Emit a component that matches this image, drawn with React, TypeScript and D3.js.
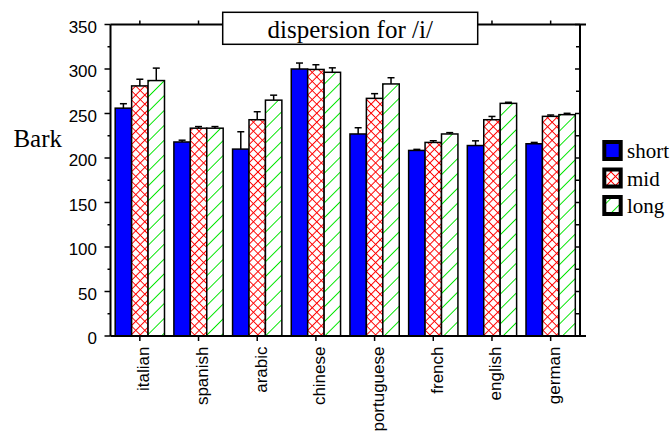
import React from 'react';
import * as d3 from 'd3';

const categories = ['italian', 'spanish', 'arabic', 'chinese', 'portuguese', 'french', 'english', 'german'];
const seriesNames = ['short', 'mid', 'long'];
const shortValues = [256, 218, 210, 300, 227, 208.5, 214, 216];
const shortErrors = [5, 2, 19.5, 6.7, 7, 1.2, 5.3, 1.5];
const midValues = [281, 233.5, 243, 299.5, 267, 217.5, 243, 246.8];
const midErrors = [7.5, 1.8, 9, 5.3, 5.3, 1.9, 3.7, 1.5];
const longValues = [287, 233.5, 265, 296.3, 283.2, 227, 261.4, 248.7];
const longErrors = [14, 1.8, 5.6, 5, 7, 1.5, 1.2, 1.5];
const yMajorTicks = [0, 50, 100, 150, 200, 250, 300, 350];
const yMinorTicks = [25, 75, 125, 175, 225, 275, 325];
const title = 'dispersion for /i/';
const yLabel = 'Bark';

const W = 672;
const H = 433;
const left = 110.5;
const right = 580;
const top = 24.5;
const bottom = 336;

const SANS = '"Liberation Sans", Arial, sans-serif';
const SERIF = '"Liberation Serif", "Times New Roman", serif';

const fills = ['#0000ff', 'url(#crossRed)', 'url(#diagGreen)'];

export default function App() {
  const x0 = d3.scaleBand<string>().domain(categories).range([left, right]).paddingInner(0.16).paddingOuter(0.08);
  const x1 = d3.scaleBand<string>().domain(seriesNames).range([0, x0.bandwidth()]).padding(0);
  const y = d3.scaleLinear().domain([0, 350]).range([bottom, top]);

  const valuesBySeries = [shortValues, midValues, longValues];
  const errorsBySeries = [shortErrors, midErrors, longErrors];

  const bars: any[] = [];
  categories.forEach((c, ci) => {
    seriesNames.forEach((s, si) => {
      bars.push({ c, s, si, v: valuesBySeries[si][ci], e: errorsBySeries[si][ci] });
    });
  });

  const bw = x1.bandwidth();
  const tickX = (c: string) => (x0(c) as number) + x0.bandwidth() / 2;

  return (
    <svg width={W} height={H} style={{ position: 'absolute', left: 0, top: 0, background: '#fff' }}>
      <defs>
        <pattern id="crossRed" patternUnits="userSpaceOnUse" width={6.4} height={6.4} patternTransform="rotate(45)">
          <rect width={6.4} height={6.4} fill="#fff" />
          <path d="M0,3.2 H6.4 M3.2,0 V6.4" stroke="#ff0000" strokeWidth={1} />
        </pattern>
        <pattern id="diagGreen" patternUnits="userSpaceOnUse" width={10.5} height={10.5} patternTransform="rotate(45)">
          <rect width={10.5} height={10.5} fill="#fff" />
          <path d="M5.25,0 V10.5" stroke="#00e600" strokeWidth={1} />
        </pattern>
      </defs>

      {/* bars */}
      {bars.map((b, i) => {
        const bx = (x0(b.c) as number) + (x1(b.s) as number);
        return (
          <rect key={'b' + i} x={bx} y={y(b.v)} width={bw} height={bottom - y(b.v)}
            fill={fills[b.si]} stroke="#000" strokeWidth={1.5} />
        );
      })}
      {/* error bars */}
      {bars.map((b, i) => {
        const cx = (x0(b.c) as number) + (x1(b.s) as number) + bw / 2;
        return (
          <g key={'e' + i} stroke="#000" strokeWidth={1.5}>
            <line x1={cx} x2={cx} y1={y(b.v)} y2={y(b.v + b.e)} />
            <line x1={cx - 3.5} x2={cx + 3.5} y1={y(b.v + b.e)} y2={y(b.v + b.e)} />
          </g>
        );
      })}

      {/* frame */}
      <g stroke="#000" strokeWidth={2} fill="none">
        <line x1={left} x2={left} y1={top} y2={bottom} />
        <line x1={right} x2={right} y1={top} y2={bottom} />
        <line x1={left} x2={586} y1={top} y2={top} />
        <line x1={left} x2={586} y1={bottom} y2={bottom} />
      </g>

      {/* ticks */}
      <g stroke="#000" strokeWidth={1.5}>
        {yMajorTicks.map((t) => (
          <line key={'lm' + t} x1={left - 6} x2={left} y1={y(t)} y2={y(t)} />
        ))}
        {yMinorTicks.map((t) => (
          <line key={'ln' + t} x1={left - 3} x2={left} y1={y(t)} y2={y(t)} />
        ))}
        {yMajorTicks.map((t) => (
          <line key={'rm' + t} x1={right - 5} x2={right} y1={y(t)} y2={y(t)} />
        ))}
        {yMinorTicks.map((t) => (
          <line key={'rn' + t} x1={right - 4} x2={right} y1={y(t)} y2={y(t)} />
        ))}
        {categories.map((c) => (
          <line key={'bt' + c} x1={tickX(c)} x2={tickX(c)} y1={bottom} y2={bottom + 5} />
        ))}
        {categories.map((c) => (
          <line key={'tt' + c} x1={tickX(c)} x2={tickX(c)} y1={top} y2={top - 4} />
        ))}
      </g>

      {/* y tick labels */}
      {yMajorTicks.map((t) => (
        <text key={'yl' + t} x={97} y={y(t)} dy="0.48em" textAnchor="end" fontFamily={SANS} fontSize={17} fill="#000">
          {t}
        </text>
      ))}

      {/* category labels */}
      {categories.map((c) => (
        <text key={'cl' + c} transform={`translate(${tickX(c) + 9.5},346.5) rotate(-90)`} textAnchor="end"
          fontFamily={SANS} fontSize={17} fill="#000">
          {c}
        </text>
      ))}

      {/* y label */}
      <text x={62} y={147} textAnchor="end" fontFamily={SERIF} fontSize={25} fill="#000">{yLabel}</text>

      {/* title */}
      <rect x={222.7} y={12.3} width={255} height={32} fill="#fff" stroke="#000" strokeWidth={1.5} />
      <text x={350.2} y={37.5} textAnchor="middle" fontFamily={SERIF} fontSize={25} fill="#000">{title}</text>

      {/* legend */}
      {seriesNames.map((s, i) => {
        const by = 140 + i * 27.5;
        return (
          <g key={'lg' + s}>
            <rect x={604.3} y={by + 2} width={16.4} height={17} fill={fills[i]} stroke="#000" strokeWidth={4} />
            <text x={627} y={by + 18.3} fontFamily={SERIF} fontSize={21} fill="#000">{s}</text>
          </g>
        );
      })}
    </svg>
  );
}
